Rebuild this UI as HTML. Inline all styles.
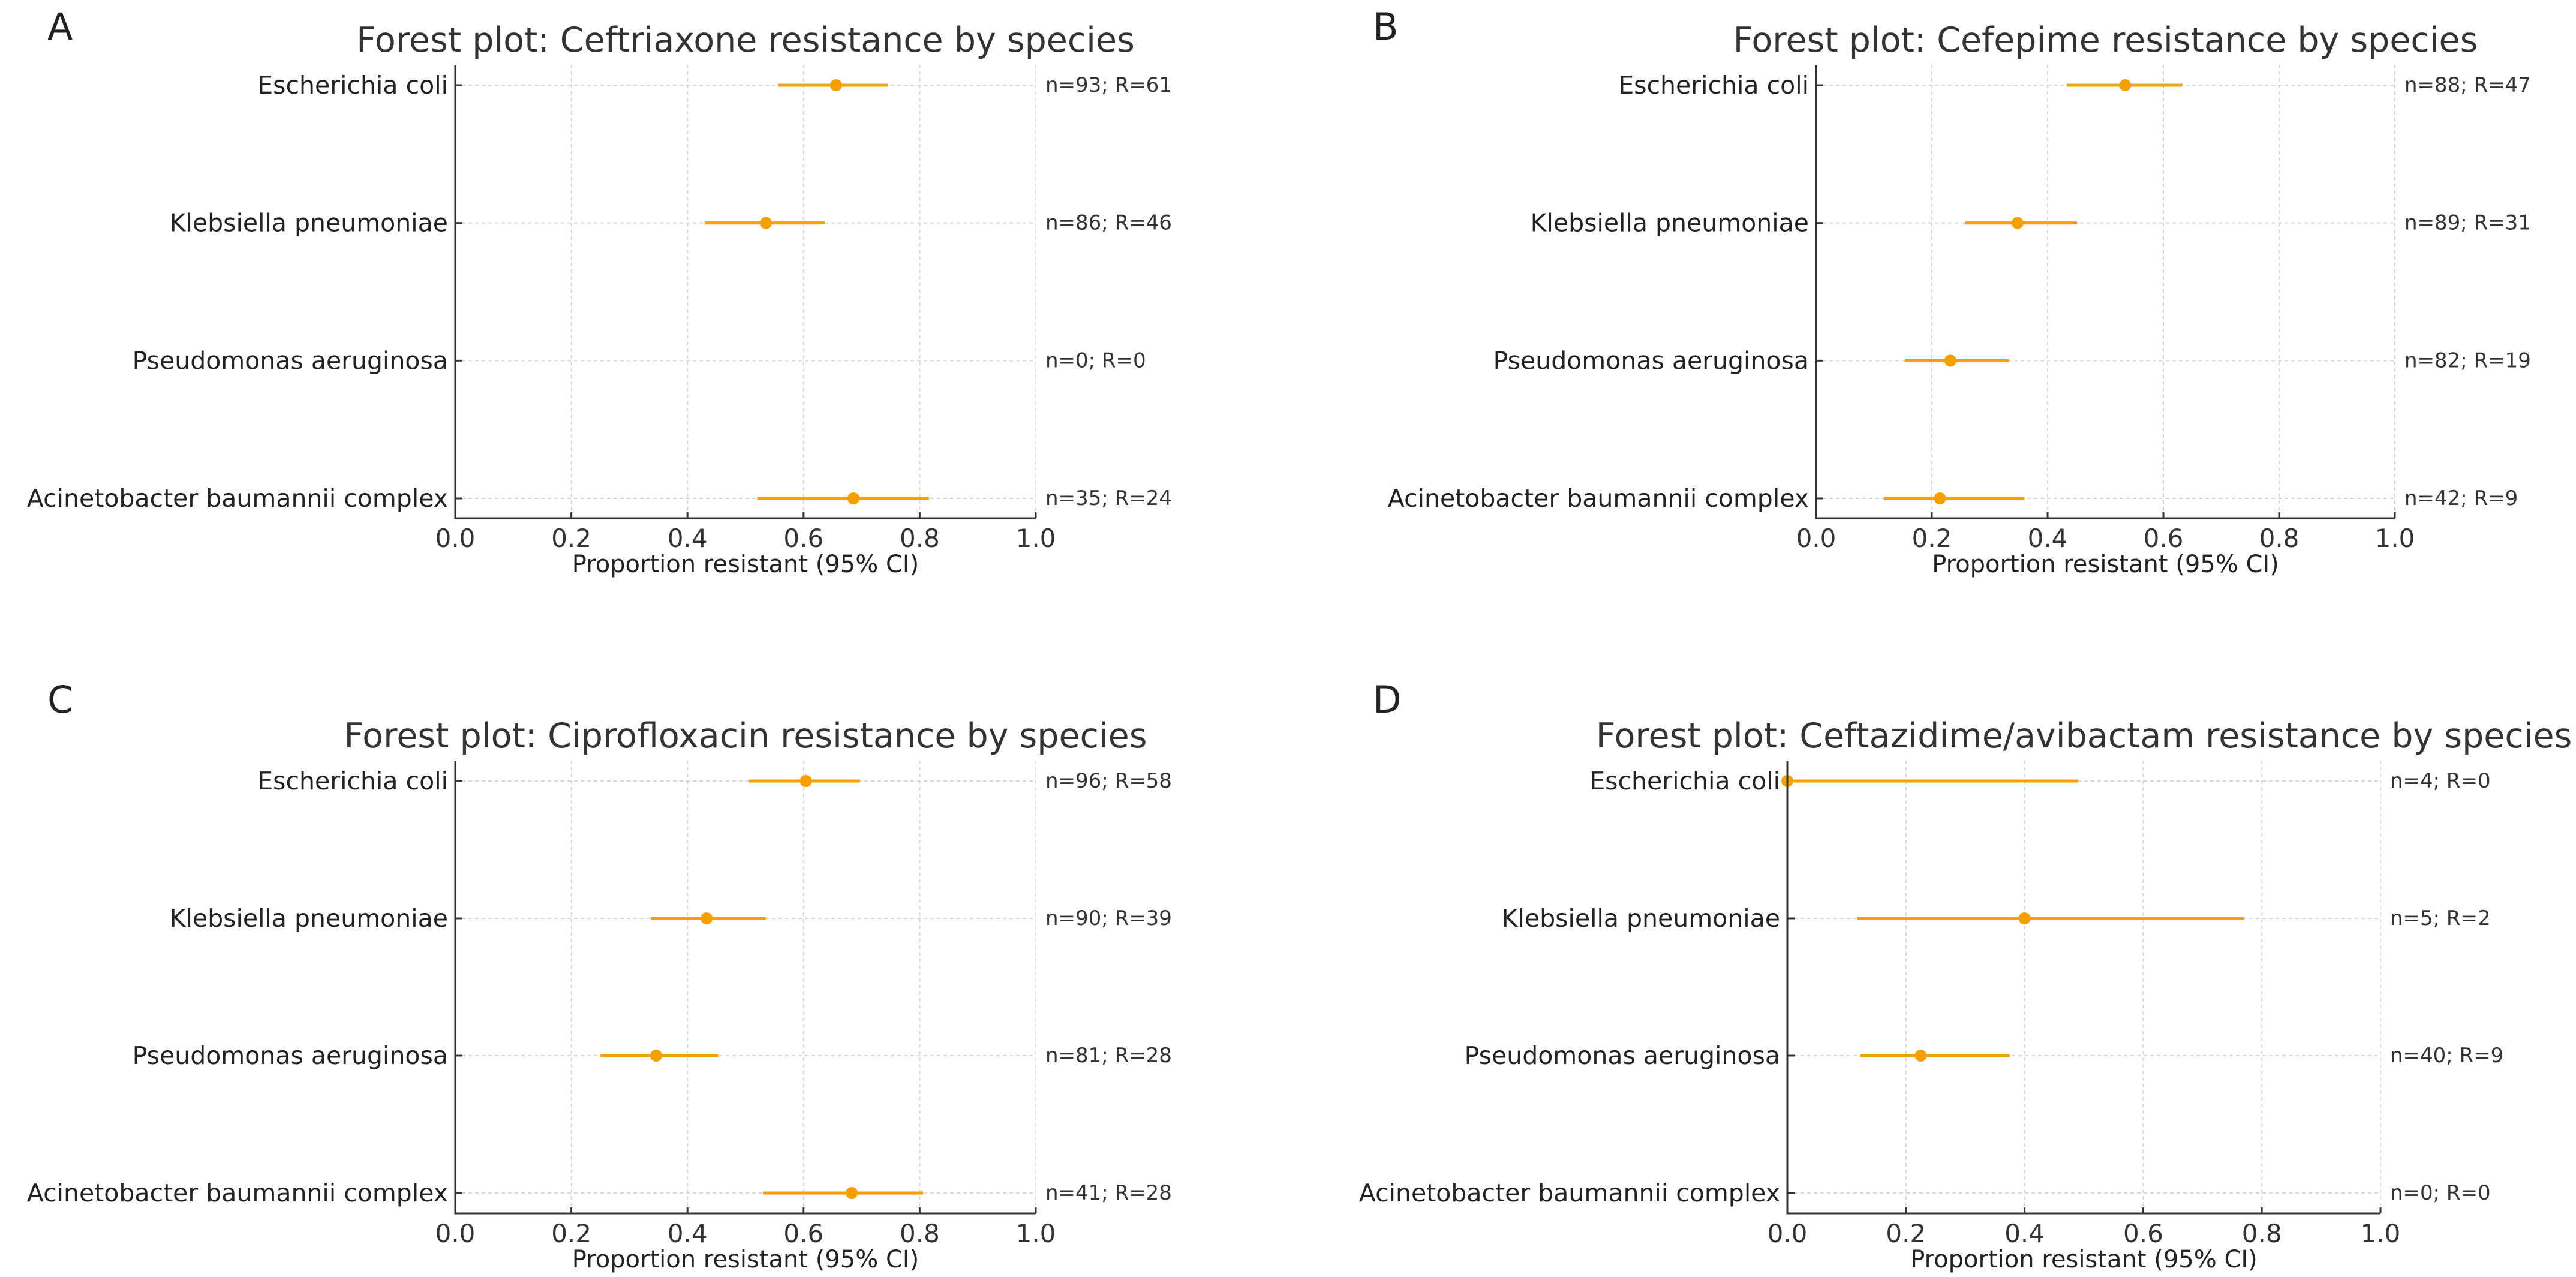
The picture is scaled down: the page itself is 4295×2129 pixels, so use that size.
<!DOCTYPE html>
<html><head><meta charset="utf-8"><style>
html,body{margin:0;padding:0;background:#fff;}
svg{display:block;font-family:"DejaVu Sans","Liberation Sans",sans-serif;}
</style></head><body>
<svg id="fig" width="4295" height="2129" viewBox="0 0 4295 2129" xmlns="http://www.w3.org/2000/svg"></svg>
<script>
const species = ["Escherichia coli","Klebsiella pneumoniae","Pseudomonas aeruginosa","Acinetobacter baumannii complex"];
const panelLetters = ["A","B","C","D"];
const panelTitles = ["Forest plot: Ceftriaxone resistance by species","Forest plot: Cefepime resistance by species","Forest plot: Ciprofloxacin resistance by species","Forest plot: Ceftazidime/avibactam resistance by species"];
const xTicks = [0,0.2,0.4,0.6,0.8,1.0];
const xTickLabels = ["0.0","0.2","0.4","0.6","0.8","1.0"];
// per panel: n, R, point estimate, lower CI, upper CI (null = no data)
const nA = [93,86,0,35], rA = [61,46,0,24];
const estA = [0.656,0.535,null,0.686], loA = [0.556,0.43,null,0.52], hiA = [0.745,0.637,null,0.816];
const nB = [88,89,82,42], rB = [47,31,19,9];
const estB = [0.534,0.348,0.232,0.214], loB = [0.433,0.258,0.153,0.117], hiB = [0.633,0.451,0.333,0.36];
const nC = [96,90,81,41], rC = [58,39,28,28];
const estC = [0.604,0.433,0.346,0.683], loC = [0.505,0.337,0.25,0.53], hiC = [0.697,0.535,0.453,0.806];
const nD = [4,5,40,0], rD = [0,2,9,0];
const estD = [0,0.4,0.225,null], loD = [0,0.118,0.123,null], hiD = [0.49,0.77,0.375,null];

const NS="http://www.w3.org/2000/svg";
const svg=document.getElementById('fig');
function mk(tag,attrs,parent){const e=document.createElementNS(NS,tag);for(const k in attrs)e.setAttribute(k,attrs[k]);(parent||svg).appendChild(e);return e;}

const panels=[
 {x0:759,x1:1727,yTop:108,yBot:864,rowTop:142,rowBot:831,lx:83,ly:66,n:nA,r:rA,est:estA,lo:loA,hi:hiA},
 {x0:3028,x1:3993,yTop:108,yBot:864,rowTop:142,rowBot:831,lx:2293,ly:66,n:nB,r:rB,est:estB,lo:loB,hi:hiB},
 {x0:759,x1:1727,yTop:1268,yBot:2023,rowTop:1302,rowBot:1989,lx:83,ly:1188,n:nC,r:rC,est:estC,lo:loC,hi:hiC},
 {x0:2980,x1:3969,yTop:1268,yBot:2023,rowTop:1302,rowBot:1989,lx:2293,ly:1188,n:nD,r:rD,est:estD,lo:loD,hi:hiD}
];
const ORANGE="#f5a000";
panels.forEach((p,pi)=>{
  const g=mk('g',{});
  
  
  const xs=v=>p.x0+v*(p.x1-p.x0);
  const ys=i=>p.rowTop+i*(p.rowBot-p.rowTop)/(species.length-1);
  const letter=mk('text',{x:p.lx-4,y:p.ly,'font-size':62,fill:'#222'},g);letter.textContent=panelLetters[pi];
  
  
  const t=mk('text',{x:(p.x0+p.x1)/2,y:p.yTop-22,'font-size':57,fill:'#333','text-anchor':'middle'},g);t.textContent=panelTitles[pi];
  
  
  xTicks.forEach((v,k)=>{
    if(k>0){const gl=mk('line',{x1:xs(v),x2:xs(v),y1:p.yTop,y2:p.yBot,stroke:'#d8d8d8','stroke-width':2,'stroke-dasharray':'6,5'},g);
    
    }
    mk('line',{x1:xs(v),x2:xs(v),y1:p.yBot,y2:p.yBot-10,stroke:'#333','stroke-width':3},g);
    const tl=mk('text',{x:xs(v),y:p.yBot+48,'font-size':42,fill:'#333','text-anchor':'middle'},g);tl.textContent=xTickLabels[k];
    
    
  });
  species.forEach((s,i)=>{
    const y=ys(i);
    const hl=mk('line',{x1:p.x0,x2:p.x1,y1:y,y2:y,stroke:'#d8d8d8','stroke-width':2,'stroke-dasharray':'6,5'},g);
    
    
    mk('line',{x1:p.x0,x2:p.x0+12,y1:y,y2:y,stroke:'#333','stroke-width':3},g);
    const lab=mk('text',{x:p.x0-12,y:y+14,'font-size':41,fill:'#222','text-anchor':'end'},g);lab.textContent=s;
    
    
    const an=mk('text',{x:p.x1+16,y:y+11,'font-size':34,fill:'#333'},g);an.textContent='n='+p.n[i]+'; R='+p.r[i];
    
    
    if(p.est[i]!==null){
      const ci=mk('line',{x1:xs(p.lo[i]),x2:xs(p.hi[i]),y1:y,y2:y,stroke:ORANGE,'stroke-width':5},g);
      
      
      const pt=mk('circle',{cx:xs(p.est[i]),cy:y,r:10,fill:ORANGE},g);
      
      
    }
  });
  const ax=mk('path',{d:`M${p.x0},${p.yTop} V${p.yBot} H${p.x1}`,fill:'none',stroke:'#333','stroke-width':3},g);
  
  
  const xl=mk('text',{x:(p.x0+p.x1)/2,y:p.yBot+90,'font-size':40,fill:'#222','text-anchor':'middle'},g);xl.textContent='Proportion resistant (95% CI)';
  
  
});
</script>
</body></html>
